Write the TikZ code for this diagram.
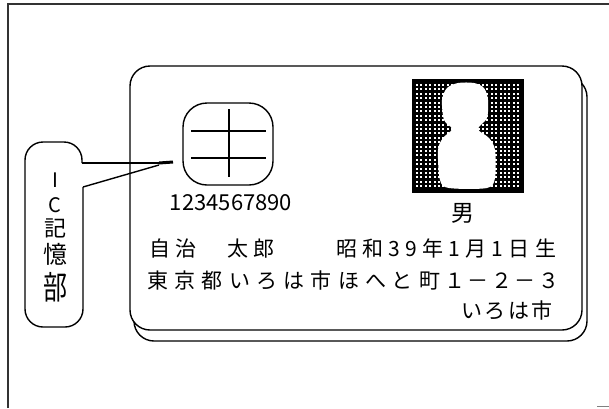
\documentclass[tikz,border=0pt]{standalone}
\usepackage{fontspec}
\newfontfamily\jpfont{Noto Sans CJK JP}
\newfontfamily\jpwide[LetterSpace=25]{Noto Sans CJK JP}
\newfontfamily\jpwider[LetterSpace=30]{Noto Sans CJK JP}
\newfontfamily\jpmid[LetterSpace=12]{Noto Sans CJK JP}

\tikzset{
  outline/.style={draw=black, line width=1.4},
  cardtext/.style={inner sep=0pt, anchor=base west, font=\jpwide\fontsize{21}{21}\selectfont},
  sidetext/.style={inner sep=0pt, font=\jpfont\fontsize{22}{22}\selectfont},
  chipbox/.style={outline, rounded corners=24, minimum width=90pt, minimum height=82pt, inner sep=0pt},
}

\begin{document}
\begin{tikzpicture}[x=1pt,y=-1pt]
  \useasboundingbox (0,0) rectangle (609,408);
  % frame
  \draw[line width=1.5, black!80] (8,408) -- (8,4) -- (609,4);
  \draw[gray, line width=1.2] (597,406.5) -- (609,406.5);

  % two cards, the front one on top
  \draw[outline, fill=white, rounded corners=20] (134,77) rectangle (587,341);
  \draw[outline, fill=white, rounded corners=20] (130,66) rectangle (582,330);

  % IC chip
  \node[chipbox] (chip) at (228,144) {};
  \draw[outline] (191,131) -- (266,131) (191,158) -- (266,158) (229,109) -- (229,177);
  \node[inner sep=0pt, anchor=base, font=\jpfont\fontsize{22}{22}\selectfont] (number) at (231,210) {1234567890};

  % photo: dotted ground with a white figure
  \fill[black] (412,79) rectangle (524,193);
  \foreach \i in {0,...,23}
    \foreach \j in {0,...,23}
      \fill[white] (416+\i*4.4,84+\j*4.4) rectangle +(2,2);
  \fill[white] plot[smooth cycle, tension=0.5] coordinates {
    (449,188) (440,180) (438,150) (443,138) (452,129) (444,120) (442,100)
    (447,88) (458,83) (474,83) (484,88) (488,100) (487,118) (478,129)
    (489,138) (495,150) (495,178) (487,188)};
  \node[inner sep=0pt, anchor=base, font=\jpfont\fontsize{23}{23}\selectfont] (sex) at (463,221) {男};

  % name, birth date, address
  \node[cardtext] (name) at (149,256) {自治};
  \node[cardtext] (given) at (227,256) {太郎};
  \node[cardtext] (birth) at (336,256) {昭和39年1月1日生};
  \node[cardtext, font=\jpwider\fontsize{21}{21}\selectfont] (addr) at (147,288) {東京都いろは市ほへと町};
  \node[cardtext, font=\jpmid\fontsize{21}{21}\selectfont] (block) at (444,288) {１－２－３};
  \node[cardtext, font=\jpmid\fontsize{21}{21}\selectfont] (issuer) at (461,318) {いろは市};

  % callout bubble for the memory part
  \draw[outline, rounded corners=18] (82,163) -- (82,142) -- (25,142) -- (25,327) -- (83,327) -- (83,187);
  \coordinate (bubbletop) at (82,163);
  \coordinate (bubblelow) at (83,187);
  \coordinate (knob) at (159,163);
  \coordinate (tip) at (173,162);
  \draw[outline] (bubbletop) -- (knob);
  \draw[outline] (bubblelow) -- (159,165);
  \draw[line width=3] (knob) -- (tip);

  \node[sidetext, font=\jpfont\fontsize{20}{20}\selectfont] (letterI) at (55,180) {I};
  \node[sidetext, font=\jpfont\fontsize{20}{20}\selectfont] (letterC) at (55,205) {C};
  \node[sidetext] (kanjiA) at (55,228) {記};
  \node[sidetext, font=\jpfont\fontsize{24}{24}\selectfont] (kanjiB) at (55,254) {憶};
  \node[sidetext, font=\jpfont\fontsize{24}{24}\selectfont, yscale=1.35] (kanjiC) at (55,287) {部};
\end{tikzpicture}
\end{document}
